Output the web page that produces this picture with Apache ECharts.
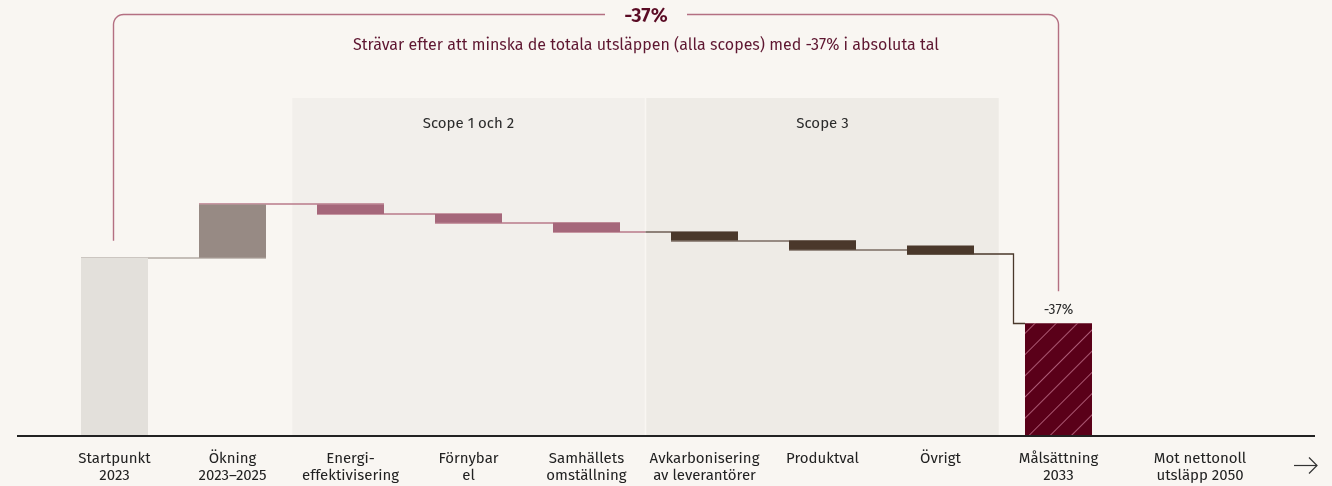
<!DOCTYPE html>
<html>
<head>
<meta charset="utf-8">
<script src="https://cdn.jsdelivr.net/npm/echarts/dist/echarts.min.js"></script>
<style>
    html, body { margin: 0; padding: 0; background: #f9f6f2; }
    #chart { width: 1332px; height: 486px; }
</style>
</head>
<body>
<div id="chart"></div>
<script>
// categories on the x axis
const categories = [
    'Startpunkt\n2023',
    'Ökning\n2023–2025',
    'Energi-\neffektivisering',
    'Förnybar\nel',
    'Samhällets\nomställning',
    'Avkarbonisering\nav leverantörer',
    'Produktval',
    'Övrigt',
    'Målsättning\n2033',
    'Mot nettonoll\nutsläpp 2050'
];
// waterfall: each bar goes from barFrom to barTo (start = 100)
const barFrom = [0, 100, 130, 124.6, 119.6, 114.5, 109.6, 106.8, 0, null];
const barTo = [100, 130, 124.6, 119.6, 114.5, 109.6, 104.5, 101.9, 63, null];
// scope panels: [first category, last category, label]
const scopes = [[2, 4, 'Scope 1 och 2'], [5, 7, 'Scope 3']];
const goalLabel = '-37%';
const headline = '-37%';
const subtitle = 'Strävar efter att minska de totala utsläppen (alla scopes) med -37% i absoluta tal';

const FONT = '"Fira Sans", "Noto Sans", sans-serif';
const barColors = ['#e3e0db', '#978a84', '#a5677a', '#a5677a', '#a5677a', '#4a382b', '#4a382b', '#4a382b', '#5a0019'];
const panelColors = ['#f2efeb', '#eeebe6'];
const BAR_W = 67;
const Y_MAX = 190;

const baseData = barFrom.map((f, i) => f === null ? '-' : Math.min(f, barTo[i]));
const deltaData = barFrom.map((f, i) => {
    if (f === null) return '-';
    const item = {
        value: Math.abs(barTo[i] - f),
        itemStyle: { color: barColors[i] }
    };
    if (i === 8) {
        item.itemStyle.decal = {
            symbol: 'rect',
            dashArrayX: [1, 0],
            dashArrayY: [1, 14],
            rotation: -Math.PI / 4,
            color: 'rgba(205, 125, 152, 0.7)'
        };
        item.label = {
            show: true,
            position: 'top',
            distance: 6,
            formatter: goalLabel,
            color: '#2b2b2b',
            fontSize: 14,
            fontFamily: FONT
        };
    }
    return item;
});
const connectorData = barTo.slice(0, 8).map((v, i) => [i, v]);

const chart = echarts.init(document.getElementById('chart'));

const option = {
    backgroundColor: '#f9f6f2',
    animation: false,
    grid: {
        left: 55.5,
        right: 96.5,
        top: 98,
        bottom: 51,
        containLabel: false,
        outerBoundsMode: 'none'
    },
    xAxis: {
        type: 'category',
        data: categories,
        axisLine: { show: false },
        axisTick: { show: false },
        splitLine: { show: false },
        axisLabel: {
            interval: 0,
            margin: 15,
            color: '#222',
            fontSize: 15,
            lineHeight: 17,
            fontFamily: FONT,
            formatter: (value, idx) => {
                if (idx !== 9) return value;
                return value.split('\n').map(s => '{last|' + s + '}').join('\n');
            },
            rich: {
                last: {
                    padding: [0, 0, 0, 47],
                    color: '#222',
                    fontSize: 15,
                    lineHeight: 17,
                    fontFamily: FONT
                }
            }
        }
    },
    yAxis: {
        type: 'value',
        min: 0,
        max: Y_MAX,
        show: false
    },
    series: [
        {
            // background panels for scope 1/2 and scope 3
            type: 'custom',
            z: 0,
            silent: true,
            data: scopes,
            renderItem: (params, api) => {
                const a = api.value(0);
                const b = api.value(1);
                const band = api.size([1, 0])[0];
                const top = api.coord([a, Y_MAX])[1];
                const bottom = api.coord([a, 0])[1];
                const x0 = api.coord([a, 0])[0] - band / 2 + 0.75;
                const x1 = api.coord([b, 0])[0] + band / 2 - 0.75;
                return {
                    type: 'group',
                    children: [
                        {
                            type: 'rect',
                            shape: { x: x0, y: top, width: x1 - x0, height: bottom - top },
                            style: { fill: panelColors[params.dataIndex] }
                        },
                        {
                            type: 'text',
                            style: {
                                text: scopes[params.dataIndex][2],
                                x: (x0 + x1) / 2,
                                y: top + 26,
                                align: 'center',
                                verticalAlign: 'middle',
                                fill: '#2b2b2b',
                                font: '15px ' + FONT
                            }
                        }
                    ]
                };
            }
        },
        {
            // connector lines between the bars (drawn below the bars)
            type: 'custom',
            z: 1,
            silent: true,
            data: connectorData,
            renderItem: (params, api) => {
                const i = api.value(0);
                const level = api.value(1);
                const band = api.size([1, 0])[0];
                const half = BAR_W / 2;
                const p = api.coord([i, level]);
                const q = api.coord([i + 1, level]);
                const y = Math.round(p[1]);
                const lines = [];
                const add = (pts, color) => lines.push({
                    type: 'polyline',
                    shape: { points: pts },
                    style: { stroke: color, lineWidth: 1.3, fill: null }
                });
                if (i === 0) {
                    add([[p[0] - half, y], [q[0] + half, y]], '#b3aba4');
                } else if (i < 4) {
                    add([[p[0] - half, y], [q[0] + half, y]], '#b97a8a');
                } else if (i === 4) {
                    const edge = p[0] + band / 2;
                    add([[p[0] - half, y], [edge, y]], '#b97a8a');
                    add([[edge, y], [q[0] + half, y]], '#6e5e55');
                } else if (i < 7) {
                    add([[p[0] - half, y], [q[0] + half, y]], '#7a6b62');
                } else {
                    const goalY = Math.round(api.coord([i + 1, barTo[i + 1]])[1]) + 0.5;
                    const xm = Math.round(q[0] - half - 12) + 0.5;
                    add([[p[0] - half, y], [xm, y], [xm, goalY], [q[0] - half, goalY]], '#4a382b');
                }
                return { type: 'group', children: lines };
            }
        },
        {
            type: 'bar',
            stack: 'wf',
            barWidth: BAR_W,
            z: 2,
            silent: true,
            itemStyle: { color: 'transparent' },
            data: baseData
        },
        {
            type: 'bar',
            stack: 'wf',
            barWidth: BAR_W,
            z: 2,
            silent: true,
            data: deltaData
        }
    ]
};
chart.setOption(option);

// bracket annotation, x axis line and arrow
const xL = Math.round(chart.convertToPixel({ xAxisIndex: 0 }, 0)) - 1.5;
const xR = Math.round(chart.convertToPixel({ xAxisIndex: 0 }, 8)) - 0.5;
const startTop = chart.convertToPixel({ yAxisIndex: 0 }, barTo[0]);
const goalTop = chart.convertToPixel({ yAxisIndex: 0 }, barTo[8]);
const baseY = chart.convertToPixel({ yAxisIndex: 0 }, 0);
const topY = 14.5;
const midX = 646;
const r = 10;

// quarter circle points for a rounded corner
function corner(cx, cy, a0, a1) {
    const pts = [];
    for (let k = 0; k <= 8; k++) {
        const a = a0 + (a1 - a0) * k / 8;
        pts.push([cx + r * Math.cos(a), cy + r * Math.sin(a)]);
    }
    return pts;
}
const leftBracket = [[xL, startTop - 17]]
    .concat(corner(xL + r, topY + r, Math.PI, Math.PI * 1.5))
    .concat([[midX - 41, topY]]);
const rightBracket = [[midX + 41, topY]]
    .concat(corner(xR - r, topY + r, Math.PI * 1.5, Math.PI * 2))
    .concat([[xR, goalTop - 32]]);

chart.setOption({
    graphic: [
        {
            type: 'polyline',
            silent: true,
            shape: { points: leftBracket },
            style: { stroke: '#b46f82', lineWidth: 1.4, fill: null }
        },
        {
            type: 'polyline',
            silent: true,
            shape: { points: rightBracket },
            style: { stroke: '#b46f82', lineWidth: 1.4, fill: null }
        },
        {
            type: 'text',
            silent: true,
            style: {
                text: headline,
                x: midX,
                y: 16,
                align: 'center',
                verticalAlign: 'middle',
                fill: '#5a0b24',
                font: '600 20px ' + FONT
            }
        },
        {
            type: 'text',
            silent: true,
            style: {
                text: subtitle,
                x: midX,
                y: 46,
                align: 'center',
                verticalAlign: 'middle',
                fill: '#5e1630',
                font: '16px ' + FONT
            }
        },
        {
            type: 'line',
            silent: true,
            z: 10,
            shape: { x1: 17, y1: baseY + 1, x2: 1315, y2: baseY + 1 },
            style: { stroke: '#222', lineWidth: 2 }
        },
        {
            type: 'polyline',
            silent: true,
            shape: { points: [[1294, 465.5], [1317, 465.5]] },
            style: { stroke: '#333', lineWidth: 1.2, fill: null }
        },
        {
            type: 'polyline',
            silent: true,
            shape: { points: [[1309, 457.5], [1317, 465.5], [1309, 473.5]] },
            style: { stroke: '#333', lineWidth: 1.2, fill: null }
        }
    ]
});
</script>
</body>
</html>
